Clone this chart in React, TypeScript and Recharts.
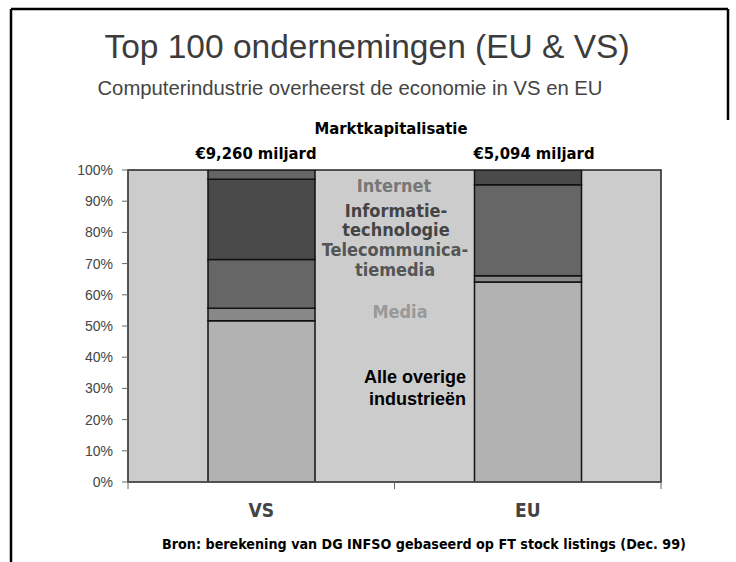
import { BarChart, Bar, XAxis, YAxis, CartesianGrid, ReferenceArea } from 'recharts'

// Marktkapitalisatie per sector, % van top 100
const regions = ['VS', 'EU']
const overige = [51.7, 64.1]
const media = [4.0, 2.0]
const telecom = [15.6, 29.2]
const infotech = [25.7, 4.7]
const internet = [3.0, 0]
const totals = ['€9,260 miljard', '€5,094 miljard']
const yTicks = [0, 10, 20, 30, 40, 50, 60, 70, 80, 90, 100]

const data = regions.map((region, i) => ({
  region,
  overige: overige[i],
  media: media[i],
  telecom: telecom[i],
  infotech: infotech[i],
  internet: internet[i],
}))

const arial = "'Liberation Sans', Arial, sans-serif"
const cond = "'DejaVu Sans Condensed', 'DejaVu Sans', sans-serif"

function RegionTick(props: any) {
  const { x, y, payload, index, width, visibleTicksCount } = props
  const half = width && visibleTicksCount ? width / visibleTicksCount / 2 : 0
  const last = index === visibleTicksCount - 1
  return (
    <g>
      <line x1={x - half} x2={x - half} y1={y} y2={y + 7} stroke="#666" />
      {last && <line x1={x + half} x2={x + half} y1={y} y2={y + 7} stroke="#666" />}
      <text
        x={x}
        y={y + 35}
        textAnchor="middle"
        fill="#444"
        fontFamily={cond}
        fontStretch="condensed"
        fontWeight="bold"
        fontSize={19}
      >
        {payload.value}
      </text>
    </g>
  )
}

export default function App() {
  return (
    <div style={{ position: 'absolute', left: 0, top: 0, width: 736, height: 562, background: '#fff' }}>
      <BarChart
        width={736}
        height={562}
        data={data}
        margin={{ top: 170, right: 75, bottom: 50, left: 68 }}
        barSize={107}
      >
        <CartesianGrid horizontal={false} vertical={false} fill="#cccccc" />
        <XAxis
          dataKey="region"
          axisLine={{ stroke: '#555', strokeWidth: 1.5 }}
          tickLine={false}
          tickSize={0}
          tickMargin={0}
          height={30}
          tick={<RegionTick />}
          interval={0}
        />
        <YAxis
          domain={[0, 100]}
          ticks={yTicks}
          width={60}
          tickSize={6}
          tickMargin={9}
          tickFormatter={(v: number) => `${v}%`}
          axisLine={{ stroke: '#555', strokeWidth: 1.5 }}
          tickLine={{ stroke: '#666' }}
          tick={{ fill: '#444', fontSize: 14, fontFamily: arial }}
          allowDataOverflow
        />
        <Bar dataKey="overige" stackId="a" fill="#b2b2b2" stroke="#111" strokeWidth={1.5} isAnimationActive={false} />
        <Bar dataKey="media" stackId="a" fill="#888888" stroke="#111" strokeWidth={1.5} isAnimationActive={false} />
        <Bar dataKey="telecom" stackId="a" fill="#666666" stroke="#111" strokeWidth={1.5} isAnimationActive={false} />
        <Bar dataKey="infotech" stackId="a" fill="#4a4a4a" stroke="#111" strokeWidth={1.5} isAnimationActive={false} />
        <Bar dataKey="internet" stackId="a" fill="#666666" stroke="#111" strokeWidth={1.5} isAnimationActive={false} />
        <ReferenceArea y1={0} y2={100} fill="none" stroke="#222" strokeWidth={1.5} ifOverflow="visible" />
      </BarChart>

      <svg
        width={736}
        height={562}
        style={{ position: 'absolute', left: 0, top: 0, pointerEvents: 'none' }}
      >
        {/* slide frame; the right edge is hidden behind the chart picture */}
        <line x1={11} y1={9} x2={11} y2={562} stroke="#000" strokeWidth={2.5} />
        <line x1={11} y1={9} x2={728} y2={9} stroke="#000" strokeWidth={2.5} />
        <line x1={728} y1={9} x2={728} y2={120} stroke="#000" strokeWidth={2.5} />

        <text x={367} y={58} textAnchor="middle" fontFamily={arial} fontSize={33.5} fill="#3c3c3c">
          Top 100 ondernemingen (EU &amp; VS)
        </text>
        <text x={350} y={95} textAnchor="middle" fontFamily={arial} fontSize={20.3} fill="#444">
          Computerindustrie overheerst de economie in VS en EU
        </text>

        <g fontFamily={cond} fontStretch="condensed" fontWeight="bold" fontSize={16.5} fill="#000">
          <text x={391} y={134} textAnchor="middle">Marktkapitalisatie</text>
          <text x={256} y={159} textAnchor="middle">{totals[0]}</text>
          <text x={534} y={159} textAnchor="middle">{totals[1]}</text>
        </g>

        <g fontFamily={cond} fontStretch="condensed" fontWeight="bold" fontSize={18} textAnchor="middle">
          <text x={394} y={192} fill="#777">Internet</text>
          <text x={396} y={217} fill="#444">Informatie-</text>
          <text x={396} y={236} fill="#444">technologie</text>
          <text x={395} y={256} fill="#555">Telecommunica-</text>
          <text x={395} y={276} fill="#555">tiemedia</text>
          <text x={400} y={318} fill="#999">Media</text>
        </g>

        <g fontFamily={arial} fontWeight="bold" fontSize={18} fill="#000" textAnchor="end">
          <text x={466} y={383}>Alle overige</text>
          <text x={466} y={405}>industrieën</text>
        </g>

        <text
          x={424}
          y={549}
          textAnchor="middle"
          fontFamily={cond}
          fontStretch="condensed"
          fontWeight="bold"
          fontSize={14.2}
          fill="#000"
        >
          Bron: berekening van DG INFSO gebaseerd op FT stock listings (Dec. 99)
        </text>
      </svg>
    </div>
  )
}
